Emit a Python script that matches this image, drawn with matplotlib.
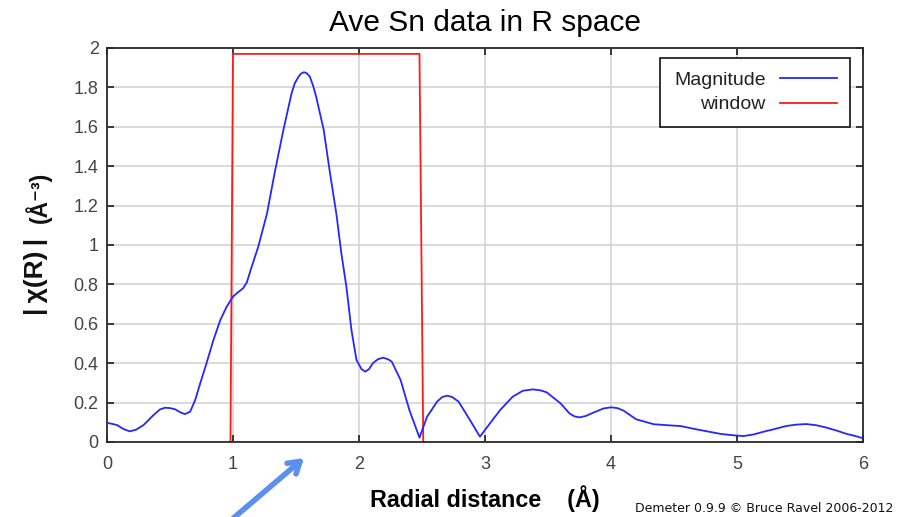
import numpy as np
import matplotlib
matplotlib.use('Agg')
import matplotlib.pyplot as plt
from matplotlib.ticker import FuncFormatter, MultipleLocator

plt.rcParams['font.family'] = ['Liberation Sans', 'DejaVu Sans']

# -----------------------------
# Data
# -----------------------------
r_mag = [0.00, 0.08, 0.13, 0.18, 0.23, 0.29, 0.37, 0.42, 0.46, 0.50, 0.54, 0.59,
         0.62, 0.66, 0.70, 0.74, 0.79, 0.845, 0.90, 0.95, 1.00, 1.04, 1.08, 1.11,
         1.14, 1.20, 1.27, 1.33, 1.40, 1.465, 1.49, 1.52, 1.54, 1.563, 1.585, 1.61,
         1.635, 1.66, 1.72, 1.77, 1.82, 1.86, 1.90, 1.94, 1.98, 2.02, 2.05, 2.08,
         2.11, 2.15, 2.19, 2.23, 2.26, 2.33, 2.40, 2.48, 2.54, 2.62, 2.66, 2.70,
         2.74, 2.79, 2.88, 2.96, 3.04, 3.12, 3.22, 3.30, 3.38, 3.44, 3.49, 3.60,
         3.67, 3.71, 3.75, 3.80, 3.86, 3.94, 4.00, 4.05, 4.10, 4.20, 4.34, 4.45,
         4.55, 4.68, 4.87, 4.97, 5.05, 5.13, 5.21, 5.30, 5.39, 5.47, 5.55, 5.63,
         5.71, 5.79, 5.87, 5.94, 6.00]
chi_mag = [0.098, 0.086, 0.066, 0.054, 0.062, 0.086, 0.137, 0.165, 0.174, 0.172,
           0.166, 0.148, 0.142, 0.154, 0.213, 0.298, 0.400, 0.518, 0.620, 0.687,
           0.738, 0.760, 0.780, 0.810, 0.873, 0.990, 1.160, 1.364, 1.584, 1.770,
           1.820, 1.854, 1.870, 1.877, 1.872, 1.854, 1.810, 1.753, 1.584, 1.364,
           1.160, 0.958, 0.788, 0.569, 0.416, 0.370, 0.357, 0.370, 0.400, 0.420,
           0.428, 0.420, 0.408, 0.315, 0.162, 0.022, 0.128, 0.205, 0.228, 0.235,
           0.228, 0.205, 0.112, 0.027, 0.095, 0.162, 0.230, 0.260, 0.267, 0.262,
           0.252, 0.196, 0.145, 0.130, 0.125, 0.132, 0.149, 0.170, 0.176, 0.172,
           0.159, 0.115, 0.090, 0.085, 0.081, 0.064, 0.041, 0.034, 0.030, 0.038,
           0.052, 0.066, 0.081, 0.088, 0.091, 0.085, 0.073, 0.058, 0.041, 0.030,
           0.019]

r_win = [0.98, 1.00, 2.48, 2.51]
win = [0.0, 1.97, 1.97, 0.0]

x_ticks = [0, 1, 2, 3, 4, 5, 6]

# -----------------------------
# Figure
# -----------------------------
fig = plt.figure(figsize=(9.09, 5.17), dpi=100)
ax = fig.add_axes([0.1177, 0.1451, 0.8317, 0.7621])

ax.plot(r_mag, chi_mag, color='#2626ff', lw=1.3, label='Magnitude', zorder=3,
        solid_joinstyle='round')
ax.plot(r_win, win, color='#ff1a1a', lw=1.3, label='window', zorder=2)

ax.set_xlim(0, 6)
ax.set_ylim(0, 2)
ax.set_xticks(x_ticks)
ax.yaxis.set_major_locator(MultipleLocator(0.2))
ax.yaxis.set_major_formatter(FuncFormatter(lambda v, p: '%g' % round(v, 2)))

ax.grid(True, color='#d4d4d4', lw=1.2, zorder=0)
ax.set_axisbelow(True)
for s in ax.spines.values():
    s.set_color('#2a2a2a')
    s.set_linewidth(1.3)

ax.tick_params(direction='in', length=5, width=1.3, color='#2a2a2a',
               top=True, right=True, labelsize=13, labelcolor='#444444')
ax.tick_params(axis='x', pad=10)
ax.tick_params(axis='y', pad=6)

ax.set_title('Ave Sn data in R space', fontsize=21.5, pad=12.5)
ax.set_xlabel('Radial distance    (Å)', fontsize=16.8, fontweight='bold',
              labelpad=9)

# y label in two pieces, as in the original
fig.text(36 / 909, 1 - 276 / 517, '|\u2009χ(R)\u2009|', rotation=90,
         ha='center', va='center', fontsize=19, fontweight='bold',
         color='#111111')
fig.text(38 / 909, 1 - 197 / 517, '(Å⁻³)', rotation=90, ha='center',
         va='center', fontsize=16.5, fontweight='bold', color='#111111')

leg = ax.legend(loc='upper right', bbox_to_anchor=(0.983, 0.975),
                borderaxespad=0, markerfirst=False, fancybox=False,
                shadow=False, fontsize=14, handlelength=2.9,
                handletextpad=0.75, labelspacing=0.35, borderpad=0.7,
                framealpha=1)
leg.get_frame().set_edgecolor('#111111')
leg.get_frame().set_linewidth(1.2)
for t in leg.get_texts():
    t.set_color('#222222')

fig.text(893 / 909, 8 / 517, 'Demeter 0.9.9 © Bruce Ravel 2006-2012',
         ha='right', va='center', fontsize=9, color='#111111',
         family='DejaVu Sans')

# blue pointer arrow overlaid on the screenshot
ax.annotate('', xy=(304, 59), xycoords='figure pixels',
            xytext=(230, -4), textcoords='figure pixels',
            arrowprops=dict(arrowstyle='->, head_length=0.8, head_width=0.5',
                            color='#5c8ff0', lw=4, capstyle='round',
                            joinstyle='round', shrinkA=0, shrinkB=0),
            annotation_clip=False)

fig.savefig('out.png', dpi=100, facecolor='white')
